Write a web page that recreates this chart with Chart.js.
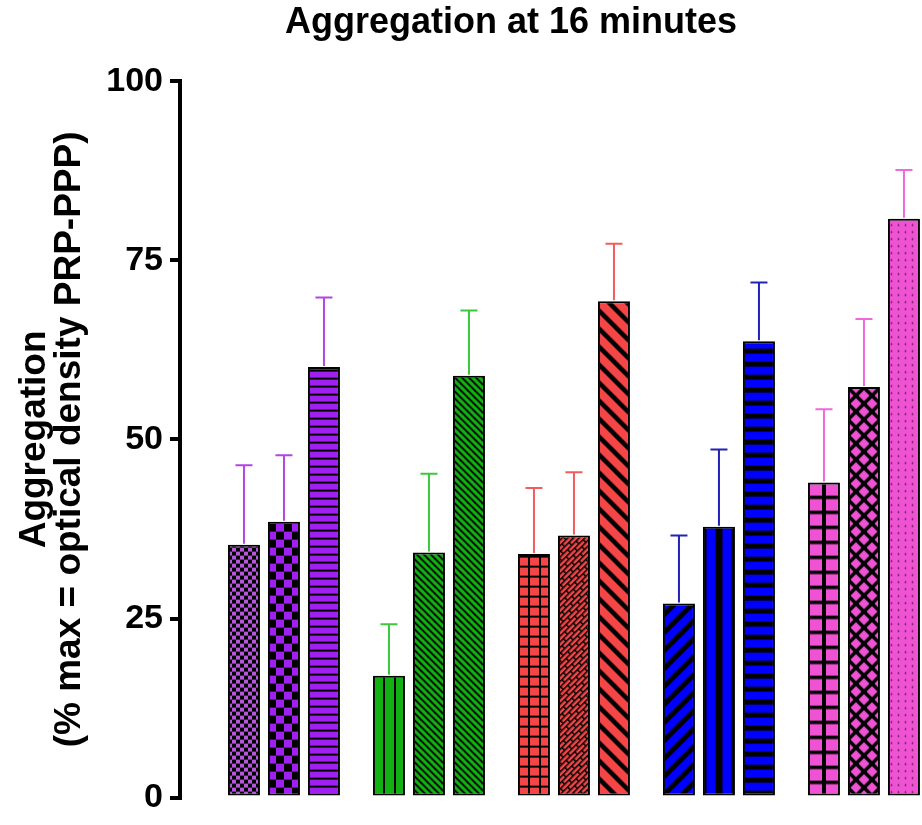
<!DOCTYPE html>
<html><head><meta charset="utf-8">
<script src="https://cdn.jsdelivr.net/npm/chart.js@4.4.1/dist/chart.umd.min.js"></script>
<style>
html,body{margin:0;padding:0;overflow:hidden;background:#fff;width:922px;height:825px}
#wrap{width:1022px;height:825px}
</style></head>
<body><div id="wrap"><canvas id="c" width="1022" height="825"></canvas></div>
<script>
// ---- data ----
const groups = [1, 2, 3, 4, 5];
const barA = [35.3, 17.0, 34.0, 27.1, 44.0];
const barB = [38.5, 34.2, 36.6, 37.8, 57.3];
const barC = [60.1, 58.9, 69.3, 63.7, 80.8];
const errA = [11.1, 7.2, 9.2, 9.5, 10.2];
const errB = [9.3, 11.0, 8.8, 10.8, 9.5];
const errC = [9.7, 9.1, 8.0, 8.2, 6.8];
const yTicks = [0, 25, 50, 75, 100];
const titleText = 'Aggregation at 16 minutes';
const yTitle = ['Aggregation', '(% max = optical density PRP-PPP)'];

// ---- styles ----
const fillColors = ['#A020F0', '#12B012', '#F44646', '#0000FF', '#F052D4'];
const errColors = ['#B346E3', '#3CC83C', '#F25C5C', '#2222B8', '#EE68DE'];
const kindsA = ['checkSmall', 'vlines', 'grid', 'diagUp', 'gridThick'];
const kindsB = ['checkLarge', 'diagDownFine', 'bricks', 'vstripe', 'crossThick'];
const kindsC = ['hlines', 'diagDownFine', 'diagDownThick', 'hstripes', 'dots'];

Chart.defaults.font.family = '"Liberation Sans", Arial, sans-serif';
Chart.defaults.color = '#000';

function makeTile(w, h, draw) {
  const c = document.createElement('canvas');
  c.width = w; c.height = h;
  const g = c.getContext('2d');
  draw(g, w, h);
  return c;
}
function diag(g, s, lw, dir) {
  g.strokeStyle = '#000'; g.lineWidth = lw; g.lineCap = 'square';
  for (let k = -1; k <= 1; k++) {
    g.beginPath();
    if (dir > 0) { g.moveTo(k * s, 0); g.lineTo(k * s + s, s); }
    else { g.moveTo(k * s, s); g.lineTo(k * s + s, 0); }
    g.stroke();
  }
}
function makePattern(kind, color) {
  const K = '#000';
  let tile, offX = 0, rot = 0;
  switch (kind) {
    case 'checkSmall':
      tile = makeTile(8, 8, g => { g.fillStyle = '#B457DA'; g.fillRect(0, 0, 8, 8); g.fillStyle = K; g.fillRect(0, 0, 4, 4); g.fillRect(4, 4, 4, 4); });
      break;
    case 'checkLarge':
      tile = makeTile(16, 16, g => { g.fillStyle = color; g.fillRect(0, 0, 16, 16); g.fillStyle = K; g.fillRect(0, 0, 8, 8); g.fillRect(8, 8, 8, 8); });
      break;
    case 'hlines':
      tile = makeTile(4, 8, g => { g.fillStyle = color; g.fillRect(0, 0, 4, 8); g.fillStyle = K; g.fillRect(0, 6, 4, 2); });
      break;
    case 'vlines':
      tile = makeTile(11, 4, g => { g.fillStyle = color; g.fillRect(0, 0, 11, 4); g.fillStyle = K; g.fillRect(0, 0, 2, 4); });
      offX = 10;
      break;
    case 'diagDownFine':
      tile = makeTile(7, 7, g => { g.fillStyle = color; g.fillRect(0, 0, 7, 7); diag(g, 7, 1.8, 1); });
      break;
    case 'grid':
      tile = makeTile(11, 10, g => { g.fillStyle = color; g.fillRect(0, 0, 11, 10); g.fillStyle = K; g.fillRect(0, 0, 2, 10); g.fillRect(0, 0, 11, 2); });
      offX = 10;
      break;
    case 'bricks':
      tile = makeTile(12, 8, g => {
        g.fillStyle = color; g.fillRect(0, 0, 12, 8); g.fillStyle = K;
        g.fillRect(0, 0, 12, 1.5); g.fillRect(0, 4, 12, 1.5);
        g.fillRect(0, 0, 1.5, 4); g.fillRect(6, 4, 1.5, 4);
      });
      rot = -45;
      break;
    case 'diagDownThick':
      tile = makeTile(18, 18, g => { g.fillStyle = color; g.fillRect(0, 0, 18, 18); diag(g, 18, 4.5, 1); });
      break;
    case 'diagUp':
      tile = makeTile(18, 18, g => { g.fillStyle = color; g.fillRect(0, 0, 18, 18); diag(g, 18, 5, -1); });
      break;
    case 'vstripe':
      tile = makeTile(16, 4, g => { g.fillStyle = color; g.fillRect(0, 0, 16, 4); g.fillStyle = K; g.fillRect(0, 0, 7, 4); });
      offX = 12.5;
      break;
    case 'hstripes':
      tile = makeTile(4, 13, g => { g.fillStyle = color; g.fillRect(0, 0, 4, 13); g.fillStyle = K; g.fillRect(0, 8, 4, 5); });
      break;
    case 'gridThick':
      tile = makeTile(16, 15, g => { g.fillStyle = color; g.fillRect(0, 0, 16, 15); g.fillStyle = K; g.fillRect(0, 0, 4, 15); g.fillRect(0, 0, 16, 3.5); });
      offX = 14;
      break;
    case 'crossThick':
      tile = makeTile(16, 16, g => { g.fillStyle = color; g.fillRect(0, 0, 16, 16); diag(g, 16, 3.5, 1); diag(g, 16, 3.5, -1); });
      offX = 8;
      break;
    case 'dots':
      tile = makeTile(7, 7, g => { g.fillStyle = color; g.fillRect(0, 0, 7, 7); g.fillStyle = '#5a1f4c'; g.beginPath(); g.arc(3.5, 3.5, 0.9, 0, Math.PI * 2); g.fill(); });
      break;
  }
  const ctx = document.getElementById('c').getContext('2d');
  return { pat: ctx.createPattern(tile, 'repeat'), offX, rot };
}

const values = [barA, barB, barC];
const errs = [errA, errB, errC];
const kinds = [kindsA, kindsB, kindsC];
const pats = kinds.map(list => list.map((k, i) => makePattern(k, fillColors[i])));

const patternAlign = {
  id: 'patternAlign',
  beforeDatasetsDraw(chart) {
    chart.data.datasets.forEach((ds, k) => {
      chart.getDatasetMeta(k).data.forEach((el, i) => {
        const p = pats[k][i];
        const left = el.x - el.width / 2;
        let m = new DOMMatrix().translate(left + p.offX, el.base);
        if (p.rot) m = m.rotate(p.rot);
        p.pat.setTransform(m);
      });
    });
  }
};

const errorBars = {
  id: 'errorBars',
  afterDatasetsDraw(chart) {
    const ctx = chart.ctx, ys = chart.scales.y;
    chart.data.datasets.forEach((ds, k) => {
      chart.getDatasetMeta(k).data.forEach((el, i) => {
        const top = ys.getPixelForValue(ds.data[i] + errs[k][i]);
        ctx.save();
        ctx.strokeStyle = errColors[i];
        ctx.lineWidth = 2;
        ctx.beginPath();
        ctx.moveTo(el.x, el.y - 1);
        ctx.lineTo(el.x, top);
        ctx.moveTo(el.x - 8.5, top);
        ctx.lineTo(el.x + 8.5, top);
        ctx.stroke();
        ctx.restore();
      });
    });
  }
};

new Chart(document.getElementById('c'), {
  type: 'bar',
  data: {
    labels: groups,
    datasets: values.map((vals, k) => ({
      label: 'Bar ' + (k + 1),
      data: vals,
      backgroundColor: pats[k].map(p => p.pat),
      borderColor: '#000',
      borderWidth: 2,
      borderSkipped: false,
      categoryPercentage: 120 / 145,
      barPercentage: 0.8
    }))
  },
  options: {
    responsive: false,
    animation: false,
    devicePixelRatio: 1,
    layout: { padding: { left: 0, right: 0, top: 0, bottom: 27 } },
    plugins: {
      legend: { display: false },
      tooltip: { enabled: false },
      title: {
        display: true, text: titleText, color: '#000',
        font: { size: 36, weight: 'bold', lineHeight: 1.2 },
        padding: { top: 1, bottom: 37 }
      }
    },
    scales: {
      x: {
        type: 'linear', offset: false, display: false,
        min: 0.283, max: 6.09,
        afterBuildTicks: s => { s.ticks = []; }
      },
      y: {
        min: 0, max: 100,
        afterBuildTicks: s => { s.ticks = yTicks.map(v => ({ value: v })); },
        afterFit: s => { s.width = 180; },
        border: { display: true, color: '#000', width: 4 },
        grid: { display: true, drawOnChartArea: false, drawTicks: true, tickLength: 10, color: '#000', lineWidth: 4 },
        ticks: { color: '#000', padding: 7, font: { size: 34, weight: 'bold' } },
        title: {
          display: true, text: yTitle, color: '#000',
          font: { size: 37, weight: 'bold', lineHeight: 35 / 37 },
          padding: { top: 17.5, bottom: 0 }
        }
      }
    }
  },
  plugins: [patternAlign, errorBars]
});
</script>
</body></html>
